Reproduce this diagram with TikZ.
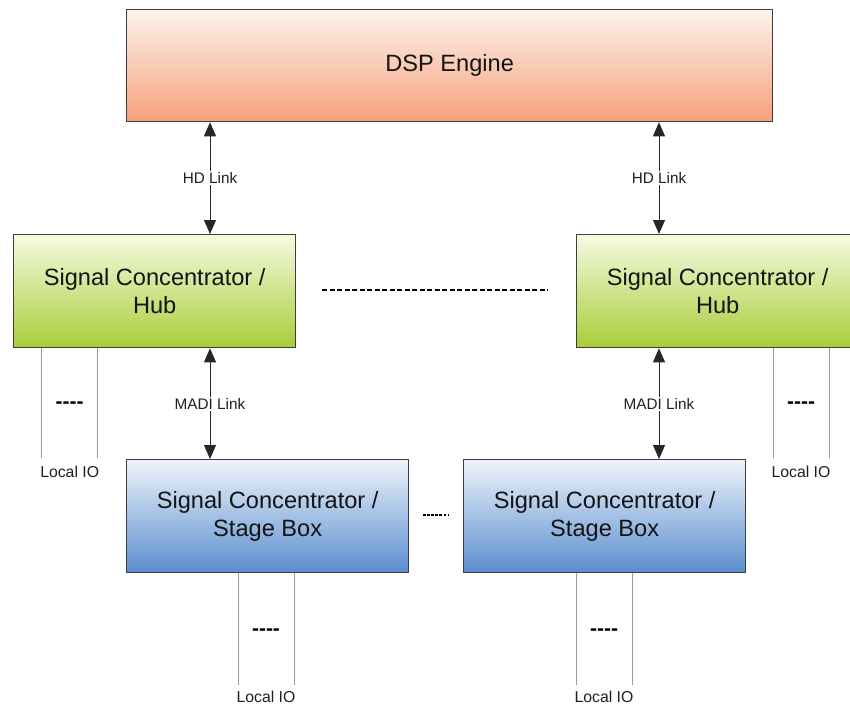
\documentclass[tikz,border=0pt]{standalone}
\usepackage{fontspec}
\setmainfont{Liberation Sans}
\usetikzlibrary{arrows.meta,calc}

\definecolor{edge}{HTML}{3E3E3E}
\definecolor{dspTop}{HTML}{FEF3EE}
\definecolor{dspBot}{HTML}{F4A07B}
\definecolor{hubTop}{HTML}{F6FAE2}
\definecolor{hubBot}{HTML}{A8CD38}
\definecolor{stgTop}{HTML}{EDF3FB}
\definecolor{stgBot}{HTML}{5A8ECF}
\definecolor{ioline}{HTML}{9A9A9A}

\begin{document}
\begin{tikzpicture}[x=1pt,y=-1pt,
  box/.style={draw=edge,line width=1.3pt,anchor=north west,align=center,
    minimum width=282pt,minimum height=113pt,inner sep=0pt,
    font=\fontsize{23.6}{28}\selectfont,text=black!92},
  dspbox/.style={box,top color=dspTop,bottom color=dspBot,
    minimum width=646pt,minimum height=112pt},
  hubbox/.style={box,top color=hubTop,bottom color=hubBot},
  stagebox/.style={box,top color=stgTop,bottom color=stgBot},
  link/.style={draw=black!85,line width=0.8pt,
    {Triangle[length=14pt,width=12pt]}-{Triangle[length=14pt,width=12pt]}},
  linklabel/.style={fill=white,inner sep=1.5pt,text=black!88,
    font=\fontsize{15.3}{17}\selectfont},
  ioline/.style={draw=ioline,line width=0.9pt},
  iolabel/.style={inner sep=0pt,text=black!88,font=\fontsize{15.8}{17}\selectfont},
  iodots/.style={inner sep=0pt,font=\fontsize{21}{22}\selectfont\bfseries},
  gapdash/.style={line width=2.4pt,dash pattern=on 5pt off 2.5pt},
  smalldash/.style={line width=1.4pt,dash pattern=on 2.6pt off 1.5pt}
]
\useasboundingbox (0,0) rectangle (850,706);
\clip (0,0) rectangle (850,706);

% main blocks
\node[dspbox] (dsp) at (126,9) {\raisebox{-2pt}{DSP Engine}};
\node[hubbox] (hubL) at (13,234) {Signal Concentrator /\\Hub};
\node[hubbox] (hubR) at (576,234) {Signal Concentrator /\\Hub};
\node[stagebox] (stL) at (126,459) {Signal Concentrator /\\Stage Box};
\node[stagebox] (stR) at (463,459) {Signal Concentrator /\\Stage Box};

% link columns
\coordinate (colL) at (210,0);
\coordinate (colR) at (659,0);

\draw[link] (colL |- dsp.south) -- node[linklabel] {HD Link} (colL |- hubL.north);
\draw[link] (colR |- dsp.south) -- node[linklabel] {HD Link} (colR |- hubR.north);
\draw[link] (colL |- hubL.south) -- node[linklabel] {MADI Link} (colL |- stL.north);
\draw[link] (colR |- hubR.south) -- node[linklabel] {MADI Link} (colR |- stR.north);

% ellipsis between the hubs and between the stage boxes
\coordinate (gA) at (322,290);
\coordinate (gB) at (548,290);
\draw[gapdash] (gA) -- (gB);
\coordinate (sA) at (423,515);
\coordinate (sB) at (448,515);
\draw[smalldash] (sA) -- (sB);

% local IO on each unit
\foreach \u/\xa/\xb/\yend/\ylab in {hubL/41.7/97.7/458/472, hubR/773/829/458/472,
                                    stL/238/294/685/697, stR/576/632/685/697}{
  \coordinate (\u-a) at (\xa,\yend);
  \coordinate (\u-b) at (\xb,\yend);
  \draw[ioline] (\u-a |- \u.south) -- (\u-a);
  \draw[ioline] (\u-b |- \u.south) -- (\u-b);
  \node[iolabel] (\u-io) at ($(\u-a)!0.5!(\u-b) + (0,\ylab-\yend)$) {Local IO};
  \node[iodots] (\u-dots) at ($(\u-a)!0.5!(\u-b) + (0,-53)$) {-{}-{}-{}-};
}
\end{tikzpicture}
\end{document}
